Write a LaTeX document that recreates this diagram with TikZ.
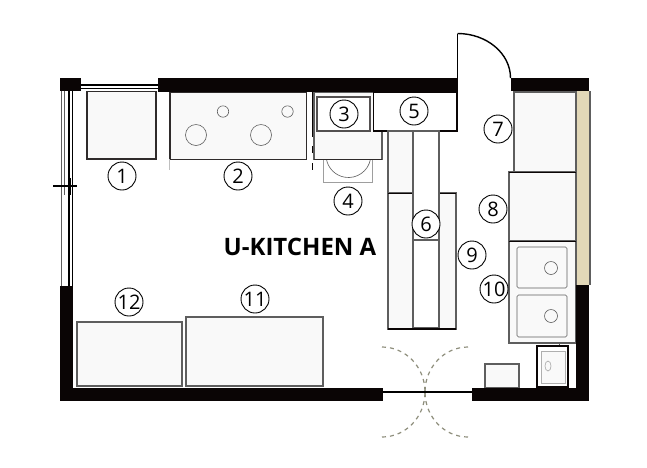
\documentclass[tikz,border=0pt]{standalone}
\usepackage{fontspec}
\setmainfont{Open Sans}
\definecolor{wallblack}{HTML}{0A0505}
\definecolor{unitfill}{HTML}{F9F9F9}
\definecolor{unitline}{HTML}{5E5E5E}
\definecolor{woodtan}{HTML}{E2D8B8}
\definecolor{swingline}{HTML}{8E8E7C}
\tikzset{
  wall/.style={fill=wallblack, draw=none},
  unit/.style={draw=unitline, fill=unitfill, line width=1.1pt},
  darkunit/.style={draw=wallblack!85, fill=unitfill, line width=1.1pt},
  thinpart/.style={draw=unitline, line width=0.6pt},
  swing/.style={draw=swingline, line width=1.2pt, dash pattern=on 4pt off 4pt},
  tag/.style={circle, draw=black, fill=white, line width=0.9pt, inner sep=0pt,
    minimum size=28pt, font=\fontsize{20}{20}\selectfont},
}
\begin{document}
\begin{tikzpicture}[x=1pt, y=-1pt]
  \useasboundingbox[fill=white] (0,0) rectangle (647,467);

  % window on the left
  \draw[draw=unitline, line width=1.1pt] (61.5,91) -- (61.5,286);
  \draw[draw=unitline, line width=1.1pt] (64.5,91) -- (64.5,195);
  \draw[line width=1.1pt] (69,91) -- (69,286);
  \draw[line width=1.1pt] (72.5,91) -- (72.5,286);
  \draw[line width=1.1pt] (53,186) -- (77,186);
  \draw[line width=1.1pt] (70,178) -- (70,195);

  % window on top
  \draw[line width=1.1pt] (81,85) -- (158,85);
  \draw[line width=1.1pt] (81,88.5) -- (158,88.5);

  % units
  \fill[woodtan] (576,91) rectangle (590,285);
  \draw[thinpart, line width=1.1pt] (590,91) -- (590,285);
  \path[darkunit] (87,91.5) rectangle (156,159);
  \path[darkunit] (170,92) rectangle (306.5,159.5);
  \draw[thinpart] (196,135) circle[radius=10.5];
  \draw[thinpart] (261,135) circle[radius=10.5];
  \draw[thinpart] (223,111.5) circle[radius=5.7];
  \draw[thinpart] (287.5,111.5) circle[radius=5.7];
  \draw[draw=unitline!40, line width=0.8pt] (169.5,159) -- (169.5,170);

  \draw[draw=wallblack, line width=0.8pt] (312.5,92) -- (312.5,137);
  \draw[draw=wallblack, line width=0.8pt] (312.5,146) -- (312.5,153);
  \draw[draw=wallblack, line width=0.8pt] (312.5,163) -- (312.5,170);
  \path[draw=unitline!60, fill=white, line width=0.9pt] (323.5,159) rectangle (372.5,182);
  \draw[thinpart] (370.5,159) arc[start angle=10, end angle=170, radius=22.4];
  \path[unit] (314,92) rectangle (382,159.5);
  \draw[draw=wallblack!85, line width=1.1pt] (314,159.5) -- (382,159.5);
  \path[draw=wallblack!70, fill=white, line width=1.1pt] (317,97) rectangle (370,131);
  \path[draw=wallblack, fill=white, line width=1.1pt] (373.5,92) rectangle (457,131);

  % island
  \path[unit] (388,131) rectangle (413,193);
  \path[unit] (388,193) rectangle (456,329);
  \draw[draw=wallblack, line width=0.9pt] (388,193) -- (413,193);
  \draw[draw=wallblack, line width=0.9pt] (439,193) -- (456,193);
  \path[draw=unitline, fill=white, line width=1.2pt] (413,131) rectangle (439,328);
  \draw[draw=unitline, line width=1.2pt] (413,240) -- (439,240);
  \draw[draw=wallblack, line width=1.1pt] (388,329) -- (456,329);

  % counter on the right
  \path[unit] (514,92) rectangle (576,172);
  \path[unit] (509,172) rectangle (576,241);
  \path[unit] (509,241) rectangle (576,343);
  \draw[draw=wallblack, line width=1pt] (509,172) -- (576,172);
  \draw[draw=wallblack, line width=1pt] (509,241) -- (576,241);
  \draw[thinpart, rounded corners=1.5pt] (517,247) rectangle (567,288);
  \draw[thinpart, rounded corners=1.5pt] (517,295) rectangle (567,337);
  \draw[thinpart] (551,268) circle[radius=6.5];
  \draw[thinpart] (551,316) circle[radius=6.5];

  % corner pieces
  \path[unit] (485,364) rectangle (519,388);
  \draw[thinpart] (559.5,343) -- (559.5,346);
  \path[draw=wallblack, fill=white, line width=1.1pt] (537,346) rectangle (568,387);
  \path[draw=unitline!50, fill=unitfill, line width=0.7pt] (541,351) rectangle (565,383);
  \draw[draw=unitline!50, line width=0.7pt] (548,366) ellipse[x radius=3, y radius=5];

  % tables
  \path[unit] (77,322) rectangle (182,386);
  \path[unit] (186,317) rectangle (323,386);

  % walls
  \path[wall] (60,78) rectangle (81,91);
  \path[wall] (158,78) rectangle (458,92);
  \path[wall] (511,78) rectangle (589,91);
  \path[wall] (60,286) rectangle (73,401);
  \path[wall] (60,388) rectangle (383,401);
  \path[wall] (472,388) rectangle (589,401);
  \path[wall] (576,285) rectangle (589,401);

  % doors
  \draw[line width=1.4pt] (457.5,78) -- (457.5,33.5);
  \draw[line width=1.4pt] (457.5,33.5) arc[start angle=-90, end angle=0, x radius=53, y radius=44.5];
  \draw[line width=1.3pt] (383,392) -- (472,392);
  \draw[swing] (382,347) arc[start angle=-90, end angle=0, x radius=43, y radius=45];
  \draw[swing] (468,347) arc[start angle=-90, end angle=-180, x radius=43, y radius=45];
  \draw[swing] (382,437) arc[start angle=90, end angle=0, x radius=43, y radius=45];
  \draw[swing] (468,437) arc[start angle=90, end angle=180, x radius=43, y radius=45];

  % number tags
  \node[tag] (t1) at (122,176) {1};
  \node[tag] (t2) at (238,176) {2};
  \node[tag] (t3) at (344,114) {3};
  \node[tag] (t4) at (348,201) {4};
  \node[tag] (t5) at (414,111) {5};
  \node[tag] (t6) at (426,224) {6};
  \node[tag] (t7) at (498,129) {7};
  \node[tag] (t8) at (493,209) {8};
  \node[tag] (t9) at (472,255) {9};
  \node[tag] (t10) at (494,289) {10};
  \node[tag] (t11) at (255,299) {11};
  \node[tag] (t12) at (129,302) {12};

  \node[font=\fontsize{24}{24}\selectfont\bfseries, inner sep=0pt] (title) at (300,247) {U-KITCHEN A};
\end{tikzpicture}
\end{document}
